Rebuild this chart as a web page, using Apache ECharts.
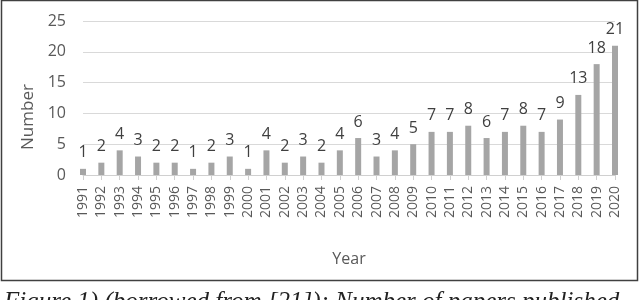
<!DOCTYPE html>
<html>
<head>
<meta charset="utf-8">
<script src="https://cdn.jsdelivr.net/npm/echarts@6/dist/echarts.min.js"></script>
<style>
html,body{margin:0;padding:0;background:#fff;}
#c{width:640px;height:300px;}
</style>
</head>
<body>
<div id="c"></div>
<script>
const years = ['1991','1992','1993','1994','1995','1996','1997','1998','1999','2000','2001','2002','2003','2004','2005','2006','2007','2008','2009','2010','2011','2012','2013','2014','2015','2016','2017','2018','2019','2020'];
const counts = [1,2,4,3,2,2,1,2,3,1,4,2,3,2,4,6,3,4,5,7,7,8,6,7,8,7,9,13,18,21];
const yTicks = [0,5,10,15,20,25];
const xTitle = 'Year';
const yTitle = 'Number';
const caption = 'Figure 1) (borrowed from [21]): Number of papers published';

const chart = echarts.init(document.getElementById('c'), null, {renderer:'canvas'});
chart.setOption({
  animation:false,
  backgroundColor:'#fff',
  textStyle:{fontFamily:'Open Sans'},
  grid:{left:83, right:25, top:21, bottom:125, containLabel:false},
  xAxis:{
    type:'category', data:years, boundaryGap:false,
    name:xTitle, nameLocation:'middle', nameGap:76,
    nameTextStyle:{fontSize:16, color:'#595959', fontFamily:'Open Sans'},
    axisLine:{lineStyle:{color:'#d0d0d0', width:1}},
    axisTick:{show:true, length:5, lineStyle:{color:'#d0d0d0'}},
    axisLabel:{rotate:90, fontSize:14, color:'#595959', margin:11, interval:0, fontFamily:'Open Sans'}
  },
  yAxis:{
    type:'value', min:yTicks[0], max:yTicks[yTicks.length-1], interval:5,
    name:yTitle, nameLocation:'middle', nameGap:46,
    nameTextStyle:{fontSize:17, color:'#595959', fontFamily:'Open Sans', padding:[0,38,0,0]},
    axisLine:{show:false}, axisTick:{show:false},
    axisLabel:{fontSize:16, color:'#595959', margin:17, fontFamily:'Open Sans'},
    splitLine:{lineStyle:{color:'#d9d9d9', width:1}}
  },
  series:[{
    type:'bar', data:counts, barWidth:6, clip:false,
    itemStyle:{color:'#a5a5a5'},
    label:{show:true, position:'top', distance:8, fontSize:16, color:'#404040', fontFamily:'Open Sans'}
  }],
  graphic:[
    {type:'rect', shape:{x:1.5, y:0.5, width:636, height:280}, style:{fill:'none', stroke:'#404040', lineWidth:1.5}, z:-1},
    {type:'text', x:4, y:290, style:{text:caption, fontFamily:'Liberation Serif', fontStyle:'italic', fontSize:25, fill:'#222', align:'left', verticalAlign:'top'}}
  ]
});
</script>
</body>
</html>
